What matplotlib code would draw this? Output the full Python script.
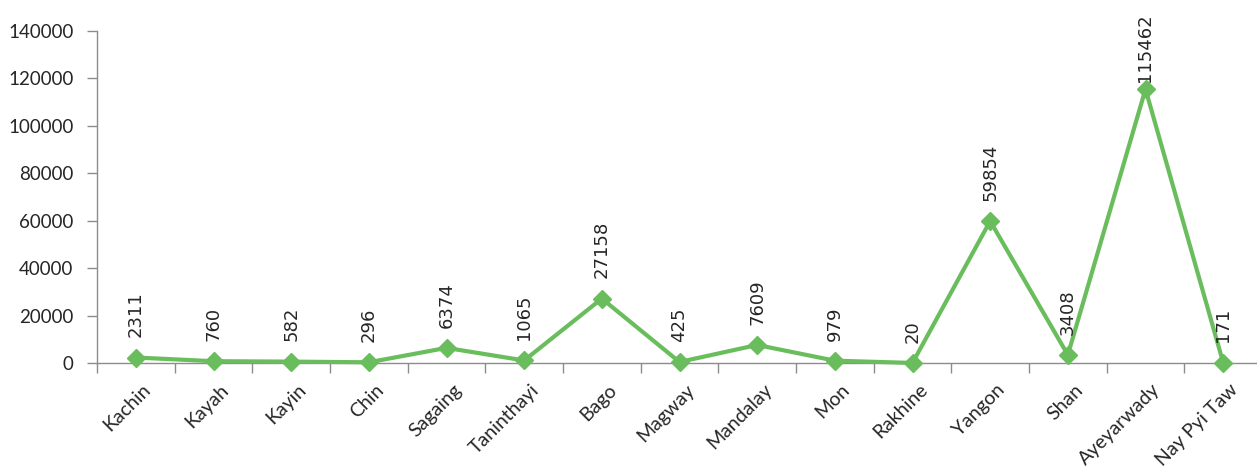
import matplotlib
matplotlib.use("Agg")
import matplotlib.pyplot as plt
import matplotlib.transforms as mtransforms
from matplotlib.ticker import MultipleLocator, FixedLocator

regions = ["Kachin", "Kayah", "Kayin", "Chin", "Sagaing", "Taninthayi", "Bago",
           "Magway", "Mandalay", "Mon", "Rakhine", "Yangon", "Shan",
           "Ayeyarwady", "Nay Pyi Taw"]
counts = [2311, 760, 582, 296, 6374, 1065, 27158, 425, 7609, 979, 20,
          59854, 3408, 115462, 171]

GREEN = "#6abd5c"
AXIS_GRAY = "#8c8c8c"
TEXT = "#262626"

W, H = 1257, 471
fig = plt.figure(figsize=(W / 100, H / 100), dpi=100)
ax = fig.add_axes([97 / W, (H - 363) / H, 1165 / W, (363 - 31) / H])

x = list(range(len(regions)))
ax.plot(x, counts, color=GREEN, lw=3, marker="D", ms=9,
        markerfacecolor=GREEN, markeredgecolor=GREEN, solid_joinstyle="miter",
        clip_on=False, zorder=3)

top_val = max(counts)
for xi, v in zip(x, counts):
    off = 5 if v == top_val else 14.5
    ax.annotate(f"{v}", (xi, v), xytext=(0, off), textcoords="offset points",
                rotation=90, ha="center", va="bottom", fontsize=13,
                family="DejaVu Sans", color=TEXT, annotation_clip=False)

ax.set_xlim(-0.5, len(regions) - 0.5)
ax.set_ylim(0, 140000)
ax.yaxis.set_major_locator(MultipleLocator(20000))

ax.set_xticks(x)
ax.set_xticklabels(regions, rotation=45, ha="right", rotation_mode="anchor",
                   fontsize=14, family="Lato", color=TEXT)
ax.tick_params(axis="x", which="major", length=0, pad=13)
# nudge category labels slightly right of their tick positions
shift = mtransforms.ScaledTranslation(6 / 100, 0, fig.dpi_scale_trans)
for lbl in ax.get_xticklabels():
    lbl.set_transform(lbl.get_transform() + shift)
ax.xaxis.set_minor_locator(FixedLocator([i + 0.5 for i in range(-1, len(regions))]))
ax.tick_params(axis="x", which="minor", length=7, width=1, color=AXIS_GRAY,
               direction="out")

ax.tick_params(axis="y", length=7, width=1, color=AXIS_GRAY, pad=10,
               labelsize=13.5, labelcolor=TEXT)
for lbl in ax.get_yticklabels():
    lbl.set_family("Lato")

for side in ("top", "right"):
    ax.spines[side].set_visible(False)
for side in ("left", "bottom"):
    ax.spines[side].set_color(AXIS_GRAY)
    ax.spines[side].set_linewidth(1)

fig.savefig("out.png", dpi=100, facecolor="white")
